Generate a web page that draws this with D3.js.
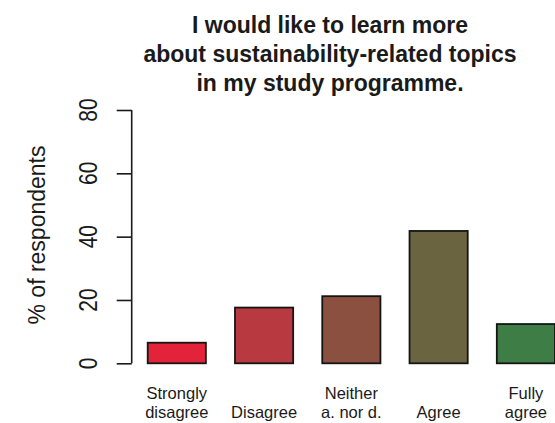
<!DOCTYPE html>
<html>
<head>
<meta charset="utf-8">
<script src="https://cdn.jsdelivr.net/npm/d3@7"></script>
<style>
  html, body { margin: 0; padding: 0; background: #fff; }
  svg { display: block; }
  text { font-family: "Liberation Sans", Arial, Helvetica, sans-serif; fill: #1a1a1a; }
</style>
</head>
<body>
<svg id="chart" width="555" height="423"></svg>
<script>
// ---- data ----
const categories = ["Strongly disagree", "Disagree", "Neither a. nor d.", "Agree", "Fully agree"];
const categoryLabelLines = [["Strongly", "disagree"], ["Disagree"], ["Neither", "a. nor d."], ["Agree"], ["Fully", "agree"]];
const values = [6.5, 17.6, 21.2, 41.8, 12.4];
const barColors = ["#e2233a", "#b8393f", "#8b5040", "#6a6441", "#3e7d45"];
const yTicks = [0, 20, 40, 60, 80];
const titleLines = ["I would like to learn more", "about sustainability-related topics", "in my study programme."];
const yAxisTitle = "% of respondents";

// ---- layout ----
const W = 555, H = 423;
const svg = d3.select("#chart");

const y = d3.scaleLinear().domain([0, 80]).range([363.3, 110]);
const x = d3.scaleBand().domain(categories).range([147.7, 555]).paddingInner(1 / 3).paddingOuter(0);

// title
const title = svg.append("text")
  .attr("text-anchor", "middle")
  .style("font-weight", "bold")
  .style("font-size", "23px");
title.selectAll("tspan").data(titleLines).join("tspan")
  .attr("x", 330)
  .attr("y", (d, i) => 33 + i * 29)
  .text(d => d);

// bars
svg.append("g").selectAll("rect").data(values).join("rect")
  .attr("x", (d, i) => x(categories[i]))
  .attr("width", x.bandwidth())
  .attr("y", d => y(d))
  .attr("height", d => y(0) - y(d))
  .attr("fill", (d, i) => barColors[i])
  .attr("stroke", "#151515")
  .attr("stroke-width", 1.8);

// y axis
const axisX = 131.7;
const yAxis = svg.append("g")
  .attr("transform", `translate(${axisX},0)`)
  .call(d3.axisLeft(y).tickValues(yTicks).tickSize(15).tickPadding(0).tickFormat(""));
yAxis.select(".domain").attr("d", `M0,${y(0)}V${y(80)}`).attr("stroke", "#1a1a1a").attr("stroke-width", 1.6);
yAxis.selectAll(".tick line").attr("stroke", "#1a1a1a").attr("stroke-width", 1.6);

// rotated tick labels
svg.append("g").selectAll("text").data(yTicks).join("text")
  .attr("transform", d => `translate(97,${y(d)}) rotate(-90) scale(1,1.2)`)
  .attr("text-anchor", "middle")
  .style("font-size", "21px")
  .text(d => d);

// y axis title
svg.append("text")
  .attr("transform", `translate(45,235) rotate(-90)`)
  .attr("text-anchor", "middle")
  .style("font-size", "23px")
  .text(yAxisTitle);

// category labels (bottom-aligned lines)
const lab = svg.append("g");
categories.forEach((c, i) => {
  const lines = categoryLabelLines[i];
  const t = lab.append("text")
    .attr("text-anchor", "middle")
    .style("font-size", "16.5px");
  lines.forEach((ln, j) => {
    t.append("tspan")
      .attr("x", x(c) + x.bandwidth() / 2)
      .attr("y", 417.5 - (lines.length - 1 - j) * 18.7)
      .text(ln);
  });
});
</script>
</body>
</html>
